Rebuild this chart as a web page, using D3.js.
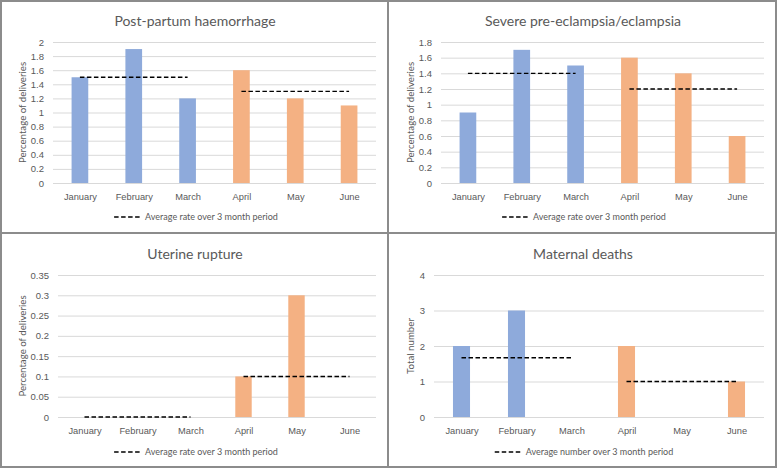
<!DOCTYPE html>
<html>
<head>
<meta charset="utf-8">
<script src="https://cdn.jsdelivr.net/npm/d3@7"></script>
<style>
  html, body { margin: 0; padding: 0; background: #ffffff; }
  svg { display: block; font-family: "Lato", "Liberation Sans", sans-serif; }
</style>
</head>
<body>
<svg id="chart" width="777" height="469"></svg>
<script>
// ---- Data ----
const months = ["January", "February", "March", "April", "May", "June"];
const quarter1 = ["January", "February", "March"];
const quarter2 = ["April", "May", "June"];

const pphValues = [1.5, 1.9, 1.2, 1.6, 1.2, 1.1];
const pphAverages = [1.5, 1.3];
const pphTicks = [0, 0.2, 0.4, 0.6, 0.8, 1, 1.2, 1.4, 1.6, 1.8, 2];

const preEclampsiaValues = [0.9, 1.7, 1.5, 1.6, 1.4, 0.6];
const preEclampsiaAverages = [1.4, 1.2];
const preEclampsiaTicks = [0, 0.2, 0.4, 0.6, 0.8, 1, 1.2, 1.4, 1.6, 1.8];

const ruptureValues = [0, 0, 0, 0.1, 0.3, 0];
const ruptureAverages = [0, 0.1];
const ruptureTicks = [0, 0.05, 0.1, 0.15, 0.2, 0.25, 0.3, 0.35];

const deathValues = [2, 3, 0, 2, 0, 1];
const deathAverages = [1.67, 1];
const deathTicks = [0, 1, 2, 3, 4];

const titles = ["Post-partum haemorrhage", "Severe pre-eclampsia/eclampsia", "Uterine rupture", "Maternal deaths"];
const yTitles = ["Percentage of deliveries", "Percentage of deliveries", "Percentage of deliveries", "Total number"];
const legendTexts = ["Average rate over 3 month period", "Average rate over 3 month period", "Average rate over 3 month period", "Average number over 3 month period"];

// ---- Styling / layout ----
const blue = "#8eaadb", orange = "#f4b183";
const textColor = "#595959";
const gridColor = "#d9d9d9";

const svg = d3.select("#chart");

const panels = [
  { x: 0,   y: 0,   w: 388, h: 233, left: 53, right: 376, top: 42, bottom: 183, values: pphValues, avgs: pphAverages, ticks: pphTicks },
  { x: 388, y: 0,   w: 388, h: 233, left: 53, right: 376, top: 42, bottom: 183, values: preEclampsiaValues, avgs: preEclampsiaAverages, ticks: preEclampsiaTicks },
  { x: 0,   y: 233, w: 388, h: 235, left: 58, right: 376, top: 42, bottom: 184, values: ruptureValues, avgs: ruptureAverages, ticks: ruptureTicks },
  { x: 388, y: 233, w: 388, h: 235, left: 46, right: 376, top: 42, bottom: 184, values: deathValues, avgs: deathAverages, ticks: deathTicks }
];

panels.forEach((p, i) => {
  const g = svg.append("g").attr("transform", `translate(${p.x},${p.y})`);

  const x = d3.scaleBand().domain(months).range([p.left, p.right]).paddingInner(0.69).paddingOuter(0.345);
  const xc = d3.scalePoint().domain(months).range([p.left, p.right]).padding(0.5);
  const yMax = p.ticks[p.ticks.length - 1];
  const y = d3.scaleLinear().domain([0, yMax]).range([p.bottom, p.top]);

  // gridlines via axis
  const yAxis = d3.axisLeft(y).tickValues(p.ticks).tickSize(-(p.right - p.left)).tickPadding(9)
    .tickFormat(d => String(+d.toFixed(2)));
  const ya = g.append("g").attr("transform", `translate(${p.left},0)`).call(yAxis);
  ya.select(".domain").remove();
  ya.selectAll(".tick line").attr("stroke", gridColor).attr("stroke-width", 1);
  ya.selectAll(".tick text").attr("fill", textColor).attr("font-size", 9.5);

  // bars
  g.selectAll("rect.bar").data(p.values).enter().append("rect")
    .attr("class", "bar")
    .attr("x", (d, j) => x(months[j]))
    .attr("width", x.bandwidth())
    .attr("y", d => y(d))
    .attr("height", d => y(0) - y(d))
    .attr("fill", (d, j) => j < 3 ? blue : orange);

  // x axis labels
  const xAxis = d3.axisBottom(xc).tickSize(0).tickPadding(10);
  const xa = g.append("g").attr("transform", `translate(0,${p.bottom})`).call(xAxis);
  xa.select(".domain").remove();
  xa.selectAll(".tick text").attr("fill", textColor).attr("font-size", 9.3);

  // average dashed lines
  [quarter1, quarter2].forEach((q, k) => {
    g.append("line")
      .attr("x1", xc(q[0])).attr("x2", xc(q[2]))
      .attr("y1", y(p.avgs[k])).attr("y2", y(p.avgs[k]))
      .attr("stroke", "#000").attr("stroke-width", 1.4).attr("stroke-dasharray", "4.5,2.5");
  });

  // title
  g.append("text").attr("x", p.w / 2 + 1).attr("y", 21).attr("dy", "0.35em")
    .attr("text-anchor", "middle").attr("fill", textColor).attr("font-size", 14)
    .text(titles[i]);

  // y title
  g.append("text")
    .attr("transform", `translate(23,${(p.top + p.bottom) / 2}) rotate(-90)`)
    .attr("dy", "0.35em").attr("text-anchor", "middle")
    .attr("fill", textColor).attr("font-size", 9.7)
    .text(yTitles[i]);

  // legend
  const lg = g.append("g");
  lg.append("line").attr("x1", 0).attr("x2", 27).attr("y1", 0).attr("y2", 0)
    .attr("stroke", "#000").attr("stroke-width", 1.4).attr("stroke-dasharray", "4.5,2.5");
  const lt = lg.append("text").attr("x", 31).attr("y", 0).attr("dy", "0.35em")
    .attr("fill", textColor).attr("font-size", 9).text(legendTexts[i]);
  const bw = 31 + lt.node().getComputedTextLength();
  lg.attr("transform", `translate(${(p.w / 2 + 2 - bw / 2)},${i < 2 ? 217 : 219})`);

  // panel border
  g.append("rect").attr("x", i % 2 === 0 ? 1 : 0).attr("y", i < 2 ? 1 : 0)
    .attr("width", p.w - (i % 2 === 0 ? 1 : 0)).attr("height", p.h - 1)
    .attr("fill", "none").attr("stroke", "#8c8c8c").attr("stroke-width", 2);
});
</script>
</body>
</html>
